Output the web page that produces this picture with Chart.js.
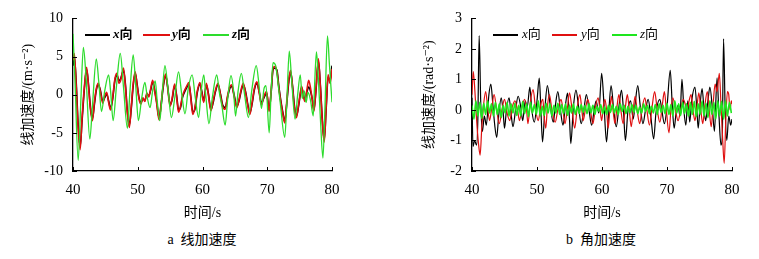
<!DOCTYPE html>
<html><head><meta charset="utf-8">
<script src="https://cdn.jsdelivr.net/npm/chart.js@4.4.1/dist/chart.umd.min.js"></script>
<style>
html,body{margin:0;padding:0;background:#fff}
body{width:759px;height:259px;position:relative;overflow:hidden;font-family:'Liberation Serif','Noto Sans CJK SC',serif;color:#000}
canvas{position:absolute;top:0}
#c1{left:0}
#c2{left:380px}
.ln{position:absolute;height:1.5px}
.lt{position:absolute;font-size:13px;line-height:14px;white-space:nowrap}
.lt i{font-family:'Liberation Serif',serif}
.b{font-weight:bold}
.cap{position:absolute;top:231px;font-size:14px;line-height:18px;white-space:nowrap;transform:translateX(-50%)}
</style></head><body>
<canvas id="c1" width="380" height="225"></canvas>
<canvas id="c2" width="379" height="225"></canvas>

<div class="ln" style="left:85px;top:34px;width:25px;background:#000"></div>
<div class="lt b" style="left:113px;top:27px"><i>x</i>向</div>
<div class="ln" style="left:143px;top:34px;width:27px;background:#e01010"></div>
<div class="lt b" style="left:172px;top:27px"><i>y</i>向</div>
<div class="ln" style="left:203px;top:34px;width:26px;background:#2ddc2d"></div>
<div class="lt b" style="left:232px;top:27px"><i>z</i>向</div>

<div class="ln" style="left:493px;top:34px;width:25px;background:#000"></div>
<div class="lt" style="left:522px;top:27px"><i>x</i>向</div>
<div class="ln" style="left:552px;top:34px;width:25px;background:#e01010"></div>
<div class="lt" style="left:581px;top:27px"><i>y</i>向</div>
<div class="ln" style="left:612px;top:34px;width:25px;background:#1ee61e"></div>
<div class="lt" style="left:640px;top:27px"><i>z</i>向</div>

<div class="cap" style="left:202px">a&nbsp; 线加速度</div>
<div class="cap" style="left:601px">b&nbsp; 角加速度</div>

<script>
// ---- (a) linear acceleration, m/s^2 ----
const linT = [40.0,40.2,40.5,40.8,41.1,41.4,41.8,42.1,42.4,42.7,43.0,43.3,43.6,43.9,44.2,44.6,44.9,45.2,45.5,45.8,46.1,46.5,46.8,47.1,47.4,47.8,48.1,48.4,48.7,49.0,49.3,49.6,49.9,50.2,50.5,50.8,51.1,51.4,51.7,52.0,52.3,52.6,52.9,53.3,53.6,53.9,54.3,54.6,55.0,55.3,55.7,56.0,56.3,56.6,56.9,57.2,57.6,57.9,58.2,58.5,58.8,59.2,59.6,59.9,60.2,60.6,60.9,61.3,61.6,62.0,62.4,62.8,63.1,63.5,63.9,64.2,64.5,64.9,65.3,65.7,66.0,66.3,66.7,67.0,67.3,67.7,68.0,68.4,68.8,69.1,69.5,69.9,70.3,70.6,70.9,71.2,71.5,71.8,72.1,72.4,72.7,73.0,73.3,73.6,73.9,74.2,74.5,74.8,75.1,75.3,75.6,75.8,76.1,76.4,76.7,77.0,77.2,77.5,77.9,78.2,78.5,78.8,79.1,79.4,79.7,80.0];
const linY = [4.5,5.4,1.0,-4.5,-7.2,-3.0,1.5,3.6,1.0,-2.0,-3.4,-1.0,0.8,1.5,0.5,-1.1,-0.2,0.3,-1.0,-2.0,-0.5,2.2,2.8,1.5,2.0,3.5,1.0,-2.5,-4.3,-1.5,1.5,3.0,1.2,-0.6,-1.2,-0.4,-0.9,0.2,-0.3,0.8,1.9,0.5,-1.0,-3.3,-1.2,1.0,2.7,1.0,-1.5,-0.5,1.4,-0.3,-2.3,-1.5,-0.2,0.5,1.2,1.6,-0.5,-2.6,-1.8,0.5,1.6,0.2,-1.0,1.5,0.0,-2.1,-1.0,0.6,1.5,-0.2,-1.5,-1.9,0.0,1.0,1.3,-0.3,-1.7,-0.4,0.8,1.5,0.0,-1.5,-2.6,-0.8,0.8,1.7,0.0,-1.3,-0.2,0.4,-2.2,0.5,3.5,3.7,3.0,0.8,-1.0,-2.5,-3.7,-1.0,1.8,3.2,1.0,-1.8,-3.0,-1.5,0.2,1.1,-0.2,-0.9,0.5,1.9,0.8,-1.0,-2.2,0.5,4.7,1.0,-3.5,-6.2,-1.5,2.6,1.5,3.4];
const linX = [3.8,5.0,1.5,-4.0,-6.8,-3.4,1.2,3.3,1.3,-1.7,-3.1,-1.3,0.6,1.3,0.7,-0.9,-0.4,0.1,-0.8,-1.8,-0.7,2.0,2.5,1.8,2.2,3.2,1.3,-2.2,-4.0,-1.8,1.2,2.8,1.4,-0.4,-1.0,-0.6,-0.7,0.0,-0.1,0.6,1.7,0.7,-0.8,-3.0,-1.5,0.8,2.5,1.2,-1.3,-0.7,1.2,-0.1,-2.0,-1.7,-0.4,0.3,1.0,1.4,-0.3,-2.3,-2.0,0.3,1.4,0.4,-0.8,1.3,0.2,-1.9,-1.2,0.4,1.3,0.0,-1.3,-1.7,-0.2,0.8,1.1,-0.1,-1.5,-0.6,0.6,1.3,0.2,-1.3,-2.4,-1.0,0.6,1.5,0.2,-1.1,-0.4,0.2,-2.0,0.3,3.3,3.5,3.2,1.0,-0.8,-2.3,-3.5,-1.3,1.5,3.0,1.2,-1.5,-2.8,-1.7,0.0,0.9,0.0,-0.7,0.3,1.0,0.4,-0.8,-2.0,0.3,4.4,1.3,-3.2,-5.9,-1.8,2.3,1.8,3.8];
const linZT = [40.0,40.3,40.8,41.2,41.6,42.0,42.6,43.0,43.6,44.0,44.4,44.9,45.5,45.8,46.2,46.7,47.3,47.8,48.4,48.8,49.3,49.7,50.1,50.6,51.1,51.5,51.9,52.3,52.7,53.0,53.4,53.8,54.2,54.7,55.2,55.7,56.3,56.8,57.3,57.8,58.4,58.9,59.4,59.8,60.2,60.5,61.0,61.5,62.2,62.6,63.0,63.5,63.9,64.4,64.8,65.1,65.5,66.0,66.5,67.1,67.6,68.3,68.7,69.1,69.5,69.8,70.3,70.6,70.9,71.3,71.6,72.0,72.7,73.0,73.4,73.8,74.3,74.7,75.1,75.4,75.7,76.0,76.3,76.7,77.1,77.3,77.6,77.9,78.2,78.6,78.9,79.3,79.6,80.0];
const linZ = [8.0,2.0,-8.6,-1.0,6.2,2.5,-5.8,-1.5,4.7,1.5,-2.2,0.5,2.6,0.5,-3.4,1.0,5.4,1.0,-4.4,0.5,5.2,1.0,-3.4,-0.5,1.6,-0.5,-1.7,0.5,1.8,-0.8,-3.4,0.5,3.8,0.5,-3.0,-0.5,3.0,0.0,-2.5,0.8,2.6,-0.5,-3.0,0.5,2.6,0.0,-3.8,-0.5,2.6,0.3,-1.5,-4.0,-0.5,2.5,0.5,-2.8,0.5,2.8,0.0,-3.0,0.5,3.8,1.5,-1.8,0.8,1.2,-5.0,0.5,4.2,3.8,2.0,-1.0,-5.6,-1.5,5.7,1.5,-3.2,0.0,2.6,-0.5,0.5,-1.0,0.3,-0.8,-2.8,1.0,5.6,2.0,-3.0,-8.3,-2.0,7.7,4.0,-1.0];

// ---- (b) angular acceleration, rad/s^2 ----
const angXT = [40.0,40.15,40.4,40.7,40.9,41.1,41.35,41.6,41.9,42.2,42.6,42.9,43.2,43.5,43.8,44.1,44.5,44.8,45.0,45.3,45.7,46.0,46.3,46.7,47.1,47.5,47.8,48.2,48.5,48.9,49.2,49.6,50.0,50.35,50.6,50.85,51.2,51.6,52.0,52.5,52.8,53.2,53.6,54.0,54.4,54.7,55.0,55.2,55.6,56.0,56.4,56.8,57.2,57.6,58.0,58.4,58.8,59.1,59.5,59.95,60.3,60.7,61.0,61.4,61.8,62.2,62.6,63.0,63.3,63.6,64.0,64.4,64.8,65.1,65.5,65.9,66.3,66.7,67.1,67.5,67.95,68.3,68.9,69.2,69.6,70.0,70.5,70.8,71.1,71.4,71.7,72.0,72.3,72.6,72.9,73.2,73.5,73.8,74.3,74.6,74.8,75.1,75.4,75.7,75.95,76.3,76.6,77.0,77.3,77.7,78.0,78.3,78.5,78.7,78.95,79.2,79.5,79.8,80.0];
const angX = [0.4,-1.2,-1.0,-1.15,-0.3,2.44,0.2,-0.7,-0.2,-0.5,0.5,0.85,0.2,-0.5,-0.9,-0.2,0.4,-0.1,-0.6,0.0,0.4,-0.1,-0.55,0.0,0.45,0.1,-0.35,0.3,0.1,0.75,0.0,-0.4,0.3,1.04,0.0,-1.05,0.0,0.8,0.2,-0.4,0.1,0.6,0.0,-0.5,0.2,0.55,-0.3,-1.1,0.1,0.65,0.1,-0.45,0.0,0.5,0.0,-0.5,0.0,0.3,-0.1,1.2,0.2,-1.05,-0.2,0.8,0.0,-0.55,0.1,0.65,0.0,-1.0,0.0,0.3,-0.3,0.2,0.8,0.1,-0.45,0.0,0.35,-0.2,-0.95,-0.1,0.35,0.0,-0.45,0.1,1.3,0.2,-0.6,-0.1,0.15,-0.2,1.0,0.0,-0.5,0.3,-0.4,0.3,0.75,0.0,-0.6,0.2,0.7,0.0,-0.35,0.3,0.75,0.0,-0.7,1.05,-0.2,-1.15,-0.9,2.33,0.0,-1.0,-0.2,-0.5,-0.3];
const angYT = [40.0,40.2,40.45,40.7,41.0,41.25,41.5,41.8,42.1,42.4,42.7,43.0,43.4,43.8,44.2,44.6,45.0,45.4,45.8,46.2,46.6,47.0,47.3,47.7,48.1,48.4,48.6,49.0,49.4,49.8,50.2,50.6,50.9,51.1,51.35,51.6,51.9,52.3,52.8,53.2,53.7,54.0,54.3,54.7,55.0,55.4,55.8,56.2,56.6,56.9,57.1,57.5,57.8,58.2,58.6,59.0,59.4,59.7,59.95,60.2,60.45,60.7,60.95,61.2,61.45,61.7,62.0,62.3,62.6,62.9,63.25,63.6,63.9,64.2,64.5,64.8,65.1,65.4,65.8,66.2,66.6,66.9,67.3,67.7,68.1,68.5,68.9,69.3,69.6,69.9,70.3,70.6,70.9,71.3,71.7,72.1,72.5,72.8,73.1,73.4,73.7,74.0,74.3,74.6,74.9,75.2,75.5,75.8,76.2,76.5,76.8,77.1,77.4,77.7,78.05,78.3,78.55,78.8,79.05,79.3,79.5,79.7,79.9,80.0];
const angY = [0.5,1.26,0.6,-0.3,-1.1,-1.48,-0.6,0.2,0.6,0.1,-0.35,0.0,0.5,0.0,-0.45,0.0,0.35,-0.1,-0.35,0.1,0.3,0.0,-0.35,0.1,0.35,0.0,-0.45,0.3,0.67,0.0,-0.35,0.2,0.35,-0.2,-0.6,0.1,0.5,0.0,-0.4,0.0,0.35,0.0,-0.45,0.1,0.56,0.0,-0.6,0.1,0.5,0.0,-0.35,0.1,0.35,0.0,-0.45,0.1,0.4,0.0,-0.35,0.1,0.35,0.0,-0.6,0.0,0.45,0.0,-0.45,0.1,0.5,0.0,-0.45,0.1,0.5,0.0,-0.55,0.0,0.45,0.0,-0.45,0.1,0.4,0.0,-0.5,0.1,0.6,0.0,-0.4,0.2,0.6,0.0,-0.75,0.0,0.4,0.0,-0.35,0.0,0.35,0.2,0.0,0.3,0.5,0.0,-0.35,0.1,0.56,0.0,-0.45,0.1,0.6,0.0,-0.55,0.2,0.85,0.6,1.2,0.2,-0.9,-1.75,-0.3,0.6,0.5,0.0,0.3,0.2];
const angZ = [0.15,-0.3,0.3,-0.2,0.25,-0.28,0.22,-0.15,0.3,-0.1,
  0.2,-0.2,0.25,-0.15,0.2,-0.25,0.15,-0.1,0.25,-0.2,
  0.2,-0.1,0.22,-0.18,0.15,-0.2,0.28,-0.12,0.2,-0.22,
  0.25,-0.1,0.18,-0.15,0.3,-0.2,0.12,-0.18,0.22,-0.1,
  0.2,-0.2,0.15,-0.1,0.22,-0.15,0.18,-0.12,0.2,-0.18,
  0.15,-0.1,0.2,-0.15,0.12,-0.12,0.18,-0.08,0.15,-0.12,
  0.2,-0.1,0.15,-0.15,0.12,-0.05,0.18,-0.12,0.1,-0.15,
  0.15,-0.08,0.18,-0.1,0.12,-0.15,0.2,-0.05,0.15,-0.12,
  0.12,-0.1,0.18,-0.08,0.15,-0.12,0.1,-0.1,0.2,-0.05,
  0.15,-0.12,0.12,-0.1,0.18,-0.15,0.2,-0.08,0.15,-0.12,
  0.22,-0.15,0.18,-0.2,0.3,-0.1,0.2,-0.18,0.25,-0.12,
  0.2,-0.2,0.25,-0.15,0.28,-0.22,0.2,-0.15,0.3,-0.2,
  0.22,-0.25,0.3,-0.15,0.25,-0.3,0.3,-0.2,0.28,-0.3,
  0.3,-0.2,0.25,-0.1];
const angZStep = 0.3; // sampling interval of the z series (s)

const xTitle = '时间/s';
const linYTitle = '线加速度/(m·s⁻²)';
const angYTitle = '线加速度/(rad·s⁻²)';

// ---- rendering ----
const FONT = "'Liberation Serif','Noto Sans CJK SC','DejaVu Serif',serif";
Chart.defaults.font.family = FONT;
Chart.defaults.color = '#000';

const pts = (ts, vs) => vs.map((v, i) => ({x: ts[i], y: v}));
const angZT = angZ.map((_, i) => 40 + i * angZStep);

const inTicks = {
  id: 'inTicks',
  afterDraw(chart) {
    const {ctx, chartArea: a, scales: {x, y}} = chart;
    ctx.save();
    ctx.strokeStyle = '#000'; ctx.lineWidth = 1;
    ctx.beginPath();
    x.ticks.forEach(t => { const p = Math.round(x.getPixelForValue(t.value)) + 0.5; ctx.moveTo(p, a.bottom); ctx.lineTo(p, a.bottom - 4); });
    y.ticks.forEach(t => { const p = Math.round(y.getPixelForValue(t.value)) + 0.5; ctx.moveTo(a.left, p); ctx.lineTo(a.left + 4, p); });
    ctx.stroke();
    ctx.restore();
  }
};

function makeChart(id, sets, yMin, yMax, yStep, yTitle, yAxisW, padRight, titlePadTop, lw, tension) {
  return new Chart(document.getElementById(id), {
    type: 'line',
    data: { datasets: sets.map((s, i) => ({
      data: s.data, borderColor: s.color, borderWidth: lw[i], pointRadius: 0,
      tension: tension, cubicInterpolationMode: 'monotone', order: s.order, fill: false
    })) },
    options: {
      responsive: false, animation: false, devicePixelRatio: 1,
      layout: { padding: { left: 0, top: 16, right: padRight, bottom: 0 } },
      plugins: { legend: { display: false }, tooltip: { enabled: false } },
      scales: {
        x: {
          type: 'linear', min: 40, max: 80,
          grid: { display: false, drawTicks: false },
          border: { display: true, color: '#000', width: 1.3 },
          ticks: { stepSize: 10, font: { size: 15 }, padding: 10 },
          title: { display: true, text: xTitle, font: { size: 14 }, padding: { top: 0, bottom: 3.6 } },
          afterFit: s => { s.height = 54; }
        },
        y: {
          min: yMin, max: yMax,
          grid: { display: false, drawTicks: false },
          border: { display: true, color: '#000', width: 1.3 },
          ticks: { stepSize: yStep, font: { size: 14 }, padding: 10 },
          title: { display: true, text: yTitle, font: { size: 14 }, padding: { top: titlePadTop, bottom: 0 } },
          afterFit: s => { s.width = yAxisW; }
        }
      }
    },
    plugins: [inTicks]
  });
}

makeChart('c1', [
  { data: pts(linT, linX), color: '#000000', order: 2 },
  { data: pts(linT, linY), color: '#e01010', order: 1 },
  { data: pts(linZT, linZ), color: '#2ddc2d', order: 0 }
], -10, 10, 5, linYTitle, 73, 48, 19.6, [1.6, 1.6, 1.3], 0.4);

makeChart('c2', [
  { data: pts(angXT, angX), color: '#000000', order: 2 },
  { data: pts(angYT, angY), color: '#e01010', order: 1 },
  { data: pts(angZT, angZ), color: '#1ee61e', order: 0 }
], -2, 3, 1, angYTitle, 92, 27, 40.6, [1.2, 1.2, 1.6], 0.4);
</script>
</body></html>
